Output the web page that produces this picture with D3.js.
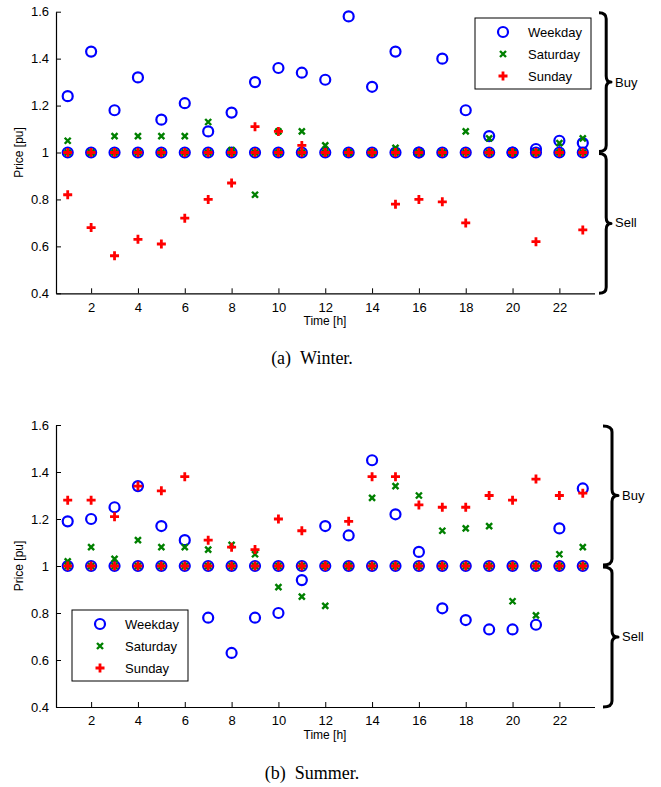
<!DOCTYPE html>
<html><head><meta charset="utf-8">
<script src="https://cdn.jsdelivr.net/npm/d3@7"></script>
<style>body{margin:0;background:#fff}svg{display:block}</style>
</head><body>
<script>
const hours = d3.range(1, 24);
const xTicks = [2,4,6,8,10,12,14,16,18,20,22];
const yTicks = [0.4,0.6,0.8,1.0,1.2,1.4,1.6];
const yTickLabels = ["0.4","0.6","0.8","1","1.2","1.4","1.6"];
const seriesNames = ["Weekday","Saturday","Sunday"];

// Winter
const winterWeekdayBuy  = [1.24,1.43,1.18,1.32,1.14,1.21,1.09,1.17,1.30,1.36,1.34,1.31,1.58,1.28,1.43,1.00,1.40,1.18,1.07,1.00,1.015,1.05,1.04];
const winterWeekdaySell = [1,1,1,1,1,1,1,1,1,1,1,1,1,1,1,1,1,1,1,1,1,1,1];
const winterSaturdayBuy = [1.05,1.00,1.07,1.07,1.07,1.07,1.13,1.01,1.00,1.09,1.09,1.03,1.00,1.00,1.02,1.00,1.00,1.09,1.06,1.00,1.00,1.04,1.06];
const winterSaturdaySell= [1,1,1,1,1,1,1,1,0.82,1,1,1,1,1,1,1,1,1,1,1,1,1,1];
const winterSundayBuy   = [1,1,1,1,1,1,1,1,1.11,1.09,1.03,1,1,1,1,1,1,1,1,1,1,1,1];
const winterSundaySell  = [0.82,0.68,0.56,0.63,0.61,0.72,0.80,0.87,1,1,1,1,1,1,0.78,0.80,0.79,0.70,1,1,0.62,1,0.67];

// Summer
const summerWeekdayBuy  = [1.19,1.20,1.25,1.34,1.17,1.11,1,1,1,1,1,1.17,1.13,1.45,1.22,1.06,1,1,1,1,1,1.16,1.33];
const summerWeekdaySell = [1,1,1,1,1,1,0.78,0.63,0.78,0.80,0.94,1,1,1,1,1,0.82,0.77,0.73,0.73,0.75,1,1];
const summerSaturdayBuy = [1.02,1.08,1.03,1.11,1.08,1.08,1.07,1.09,1.05,1,1,1,1,1.29,1.34,1.30,1.15,1.16,1.17,1,1,1.05,1.08];
const summerSaturdaySell= [1,1,1,1,1,1,1,1,1,0.91,0.87,0.83,1,1,1,1,1,1,1,0.85,0.79,1,1];
const summerSundayBuy   = [1.28,1.28,1.21,1.34,1.32,1.38,1.11,1.08,1.07,1.20,1.15,1,1.19,1.38,1.38,1.26,1.25,1.25,1.30,1.28,1.37,1.30,1.31];
const summerSundaySell  = [1,1,1,1,1,1,1,1,1,1,1,1,1,1,1,1,1,1,1,1,1,1,1];

const W = 661, H = 787;
const svg = d3.select("body").append("svg").attr("width", W).attr("height", H);
const sans = "'Liberation Sans', Arial, Helvetica, sans-serif";
const serif = "'Liberation Serif', 'Times New Roman', serif";

const x = d3.scaleLinear().domain([0.5, 23.5]).range([56, 594.5]);

function marker(g, type, cx, cy) {
  if (type === "Weekday") {
    g.append("circle").attr("cx", cx).attr("cy", cy).attr("r", 5)
      .attr("fill", "none").attr("stroke", "#0000ff").attr("stroke-width", 2.2);
  } else if (type === "Saturday") {
    const s = 3;
    g.append("path").attr("d", `M${cx-s},${cy-s}L${cx+s},${cy+s}M${cx-s},${cy+s}L${cx+s},${cy-s}`)
      .attr("stroke", "#008000").attr("stroke-width", 2.4).attr("fill", "none");
  } else {
    const s = 4.5;
    g.append("path").attr("d", `M${cx-s},${cy}L${cx+s},${cy}M${cx},${cy-s}L${cx},${cy+s}`)
      .attr("stroke", "#ff0000").attr("stroke-width", 2.8).attr("fill", "none");
  }
}

function brace(g, xl, y1, y2, w) {
  const mid = (y1 + y2) / 2;
  const xm = xl + w * 0.6, xt = xl + w;
  const r = 6;
  const d = `M${xl},${y1} Q${xm},${y1} ${xm},${y1 + r}` +
            ` L${xm},${mid - r} Q${xm},${mid} ${xt},${mid}` +
            ` Q${xm},${mid} ${xm},${mid + r}` +
            ` L${xm},${y2 - r} Q${xm},${y2} ${xl},${y2}`;
  g.append("path").attr("d", d).attr("fill", "none").attr("stroke", "#000")
    .attr("stroke-width", 3).attr("stroke-linejoin", "round");
}

function panel(cfg) {
  const y = d3.scaleLinear().domain([0.4, 1.6]).range([cfg.bottom, cfg.top]);
  const g = svg.append("g");

  const xAxis = d3.axisBottom(x).tickValues(xTicks).tickSizeInner(-5).tickSizeOuter(0).tickPadding(9);
  const gx = g.append("g").attr("transform", `translate(0,${cfg.bottom})`).call(xAxis);
  const yAxis = d3.axisLeft(y).tickValues(yTicks).tickFormat((d, i) => yTickLabels[i])
    .tickSizeInner(-5).tickSizeOuter(0).tickPadding(7);
  const gy = g.append("g").attr("transform", `translate(${x.range()[0]},0)`).call(yAxis);
  [gx, gy].forEach(a => {
    a.select(".domain").attr("stroke", "#000").attr("stroke-width", 1.2);
    a.selectAll(".tick line").attr("stroke", "#000").attr("stroke-width", 1);
    a.selectAll(".tick text").attr("fill", "#000").style("font-family", sans).style("font-size", "13px");
  });

  g.append("text").attr("x", 325).attr("y", cfg.bottom + 32).attr("text-anchor", "middle")
    .style("font-family", sans).style("font-size", "12px").text("Time [h]");
  g.append("text").attr("transform", `translate(23,${(cfg.top + cfg.bottom) / 2}) rotate(-90)`)
    .attr("text-anchor", "middle").style("font-family", sans).style("font-size", "12px").text("Price [pu]");

  const pts = g.append("g");
  const sets = [["Weekday", cfg.wdB, cfg.wdS], ["Saturday", cfg.saB, cfg.saS], ["Sunday", cfg.suB, cfg.suS]];
  sets.forEach(([name, buy, sell]) => {
    hours.forEach((h, i) => {
      marker(pts, name, x(h), y(buy[i]));
      marker(pts, name, x(h), y(sell[i]));
    });
  });

  const lg = g.append("g");
  lg.append("rect").attr("x", cfg.lx).attr("y", cfg.ly).attr("width", 116).attr("height", 71)
    .attr("fill", "#fff").attr("stroke", "#000").attr("stroke-width", 1);
  seriesNames.forEach((n, i) => {
    const yy = cfg.ly + 14 + i * 22;
    marker(lg, n, cfg.lx + 28, yy);
    lg.append("text").attr("x", cfg.lx + 53).attr("y", yy + 4.5)
      .style("font-family", sans).style("font-size", "13px").text(n);
  });

  const y1 = y(1.0);
  brace(g, cfg.bx, cfg.top + 1, y1 - 1, cfg.bw);
  brace(g, cfg.bx, y1 + 1, cfg.bottom, cfg.bw);
  g.append("text").attr("x", cfg.bx + cfg.bw + 4).attr("y", (cfg.top + y1) / 2 + 4.5)
    .style("font-family", sans).style("font-size", "13px").text("Buy");
  g.append("text").attr("x", cfg.bx + cfg.bw + 4).attr("y", (y1 + cfg.bottom) / 2 + 4.5)
    .style("font-family", sans).style("font-size", "13px").text("Sell");

  const cap = svg.append("text").attr("x", 312).attr("y", cfg.capY).attr("text-anchor", "middle")
    .style("font-family", serif).style("font-size", "18px");
  cap.append("tspan").text(cfg.capLabel);
  cap.append("tspan").attr("dx", 9).text(cfg.caption);
}

panel({top: 11.7, bottom: 293.3, wdB: winterWeekdayBuy, wdS: winterWeekdaySell,
  saB: winterSaturdayBuy, saS: winterSaturdaySell, suB: winterSundayBuy, suS: winterSundaySell,
  lx: 475, ly: 18, bx: 599, bw: 12, capY: 364, capLabel: "(a)", caption: "Winter."});
panel({top: 425, bottom: 707, wdB: summerWeekdayBuy, wdS: summerWeekdaySell,
  saB: summerSaturdayBuy, saS: summerSaturdaySell, suB: summerSundayBuy, suS: summerSundaySell,
  lx: 72, ly: 610, bx: 603, bw: 15, capY: 779, capLabel: "(b)", caption: "Summer."});
</script>
</body></html>
